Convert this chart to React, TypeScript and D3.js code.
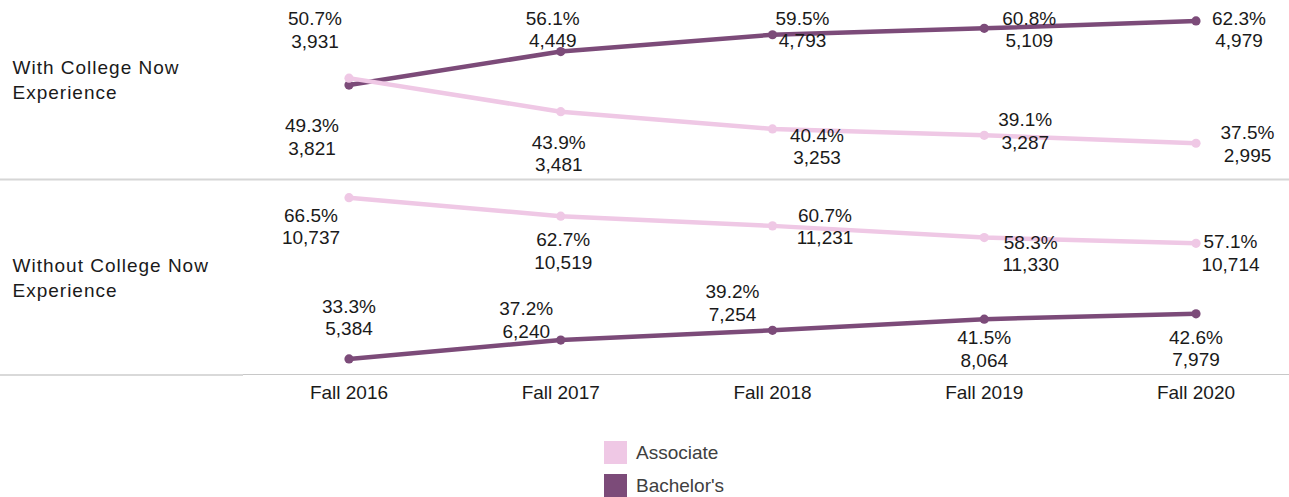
import React from 'react';
import * as d3 from 'd3';

const years = ['Fall 2016', 'Fall 2017', 'Fall 2018', 'Fall 2019', 'Fall 2020'];
const rowLabels = [
  ['With College Now', 'Experience'],
  ['Without College Now', 'Experience'],
];

// With College Now
const withAssociatePct = [50.7, 43.9, 40.4, 39.1, 37.5];
const withAssociateN = [3931, 3481, 3253, 3287, 2995];
const withBachelorPct = [49.3, 56.1, 59.5, 60.8, 62.3];
const withBachelorN = [3821, 4449, 4793, 5109, 4979];

// Without College Now
const withoutAssociatePct = [66.5, 62.7, 60.7, 58.3, 57.1];
const withoutAssociateN = [10737, 10519, 11231, 11330, 10714];
const withoutBachelorPct = [33.3, 37.2, 39.2, 41.5, 42.6];
const withoutBachelorN = [5384, 6240, 7254, 8064, 7979];

const legendItems = ['Associate', "Bachelor's"];

// label offsets from each point (centre x, baseline of the % line)
const offWithAssoc = [[-34, -53], [-2, 37], [44.5, 13], [41, -9], [51.5, -4]];
const offWithBach = [[-37, 47], [-8, -26.6], [30, -10], [45, -3.5], [43, 4]];
const offWithoutAssoc = [[-38, 24], [2.5, 30], [52.5, -4], [46.5, 11], [34.5, 5]];
const offWithoutBach = [[0, -46], [-34.5, -25], [-40, -32], [0, 25], [0, 30]];

const W = 1289;
const H = 497;
const ASSOC = '#efc8e5';
const BACH = '#7c4b79';
const FONT = "'Liberation Sans', Arial, sans-serif";

export default function App() {
  const x = d3.scalePoint().domain(years).range([349, 1196]);
  const yTop = d3.scaleLinear().domain([30, 70]).range([180.2, -17]);
  const yBottom = d3.scaleLinear().domain([30, 70]).range([375, 180.7]);
  const fmt = d3.format(',');

  const series = [
    { y: yTop, pct: withBachelorPct, n: withBachelorN, color: BACH, off: offWithBach },
    { y: yTop, pct: withAssociatePct, n: withAssociateN, color: ASSOC, off: offWithAssoc },
    { y: yBottom, pct: withoutBachelorPct, n: withoutBachelorN, color: BACH, off: offWithoutBach },
    { y: yBottom, pct: withoutAssociatePct, n: withoutAssociateN, color: ASSOC, off: offWithoutAssoc },
  ];

  return (
    <svg
      width={W}
      height={H}
      style={{ position: 'absolute', left: 0, top: 0, fontFamily: FONT }}
    >
      <rect width={W} height={H} fill="#fff" />

      {/* panel separators */}
      <line x1={0} x2={W} y1={179.5} y2={179.5} stroke="#d6d6d6" strokeWidth={2} />
      <line x1={0} x2={243} y1={375} y2={375} stroke="#d9d9d9" strokeWidth={2} />
      <line x1={243} x2={W} y1={374.5} y2={374.5} stroke="#c8c8c8" strokeWidth={1} />

      {/* row headers */}
      {rowLabels.map((lines, i) => (
        <text
          key={i}
          x={12.5}
          y={i === 0 ? 74 : 271.7}
          fontSize={19}
          letterSpacing={1}
          fill="#1a1a1a"
        >
          {lines.map((t, j) => (
            <tspan key={j} x={12.5} dy={j === 0 ? 0 : 25}>
              {t}
            </tspan>
          ))}
        </text>
      ))}

      {/* lines and dots */}
      {series.map((s, i) => {
        const line = d3
          .line<number>()
          .x((_, j) => x(years[j]) as number)
          .y((d) => s.y(d));
        return (
          <g key={i}>
            <path d={line(s.pct) || ''} fill="none" stroke={s.color} strokeWidth={4.5} />
            {s.pct.map((d, j) => (
              <circle key={j} cx={x(years[j])} cy={s.y(d)} r={4.6} fill={s.color} />
            ))}
          </g>
        );
      })}

      {/* value labels */}
      {series.map((s, i) => (
        <g key={i} fontSize={19} fill="#1a1a1a" textAnchor="middle">
          {s.pct.map((d, j) => {
            const cx = (x(years[j]) as number) + s.off[j][0];
            const cy = s.y(d) + s.off[j][1];
            return (
              <text key={j} x={cx} y={cy}>
                <tspan x={cx}>{d.toFixed(1)}%</tspan>
                <tspan x={cx} dy={22.5}>
                  {fmt(s.n[j])}
                </tspan>
              </text>
            );
          })}
        </g>
      ))}

      {/* x axis labels */}
      {years.map((yr) => (
        <text key={yr} x={x(yr)} y={398.7} fontSize={19} textAnchor="middle" fill="#1a1a1a">
          {yr}
        </text>
      ))}

      {/* legend */}
      {legendItems.map((name, i) => (
        <g key={name} transform={`translate(604, ${441 + i * 33})`}>
          <rect width={23} height={23} fill={i === 0 ? ASSOC : BACH} />
          <text x={32} y={17.5} fontSize={19} fill="#404040">
            {name}
          </text>
        </g>
      ))}
    </svg>
  );
}
